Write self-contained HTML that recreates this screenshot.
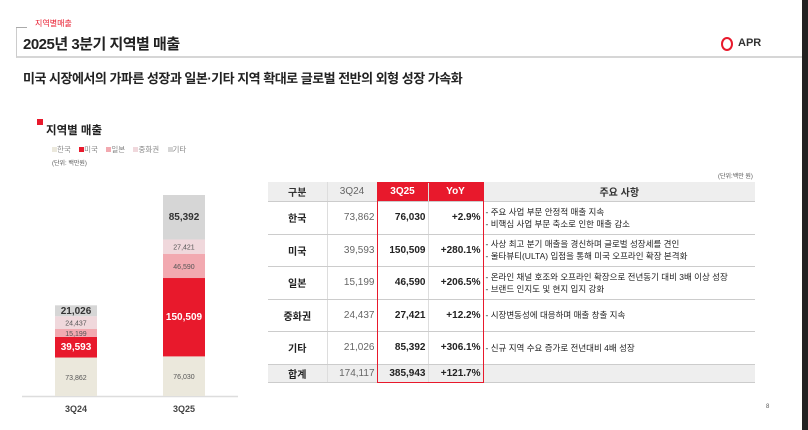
<!DOCTYPE html>
<html><head><meta charset="utf-8">
<style>
*{margin:0;padding:0;box-sizing:border-box}
body{width:808px;height:430px;background:#fff;position:relative;overflow:hidden;font-family:"Liberation Sans","Noto Sans CJK KR",sans-serif;color:#222}
.abs{position:absolute}
table{border-collapse:collapse;position:absolute;left:268px;top:182px;font-size:10px}
td,th{border-bottom:1px solid #ccc;border-right:1px solid #ddd;padding:0 2px}
th{background:#eee;font-weight:bold;height:19px;color:#333}
td.c{text-align:center;font-weight:bold}
td.r{text-align:right}
td.b{font-weight:bold}
td.n{font-size:8.5px;line-height:12px;padding-left:2px;border-right:none}
</style></head><body>
<div class="abs" style="left:16px;top:27px;width:790px;height:31px;border-left:1px solid #ccc;border-bottom:2px solid #d6d6d6"></div>
<div class="abs" style="left:16px;top:27px;width:11px;height:1px;background:#aaa"></div>
<div class="abs" style="left:35px;top:18px;font-size:8px;color:#e8192c">지역별매출</div>
<div class="abs" style="left:23px;top:33px;font-size:15px;font-weight:bold;letter-spacing:-0.5px">2025년 3분기 지역별 매출</div>
<div class="abs" style="left:721px;top:37px;width:12px;height:14px;border:2px solid #e8192c;border-radius:50%"></div>
<div class="abs" style="left:738px;top:37px;font-size:11px;font-weight:bold;color:#333">APR</div>
<div class="abs" style="left:802px;top:0;width:6px;height:430px;background:#222"></div>
<div class="abs" style="left:23px;top:68px;font-size:13px;font-weight:bold;letter-spacing:-0.5px">미국 시장에서의 가파른 성장과 일본·기타 지역 확대로 글로벌 전반의 외형 성장 가속화</div>

<div class="abs" style="left:37px;top:119px;width:6px;height:6px;background:#e8192c"></div>
<div class="abs" style="left:46px;top:122px;font-size:11.5px;font-weight:bold">지역별 매출</div>
<div class="abs" style="left:52px;top:144px;font-size:7.5px;color:#888;white-space:nowrap">
<span><span style="display:inline-block;width:5px;height:5px;background:#ebe8dc"></span>한국</span>&nbsp;&nbsp;&nbsp;
<span><span style="display:inline-block;width:5px;height:5px;background:#e8192c"></span>미국</span>&nbsp;&nbsp;&nbsp;
<span><span style="display:inline-block;width:5px;height:5px;background:#f2a9b0"></span>일본</span>&nbsp;&nbsp;&nbsp;
<span><span style="display:inline-block;width:5px;height:5px;background:#f0d8dc"></span>중화권</span>&nbsp;&nbsp;&nbsp;
<span><span style="display:inline-block;width:5px;height:5px;background:#d6d6d6"></span>기타</span>
</div>
<div class="abs" style="left:52px;top:158px;font-size:6px;color:#555">(단위: 백만원)</div>

<svg class="abs" style="left:0;top:0" width="808" height="430" id="chart"></svg>

<div class="abs" style="left:718px;top:171px;font-size:6px;color:#555">(단위:백만 원)</div>
<table>
<tr style="height:19px"><th style="width:59px">구분</th><th style="width:50px;font-weight:normal;color:#666">3Q24</th><th style="width:51px;background:#e8192c;color:#fff">3Q25</th><th style="width:55px;background:#e8192c;color:#fff">YoY</th><th style="width:272px;border-right:none">주요 사항</th></tr>
<tr style="height:33px"><td class="c">한국</td><td class="r" style="color:#666">73,862</td><td class="r b">76,030</td><td class="r b">+2.9%</td><td class="n">- 주요 사업 부문 안정적 매출 지속<br>- 비핵심 사업 부문 축소로 인한 매출 감소</td></tr>
<tr style="height:32px"><td class="c">미국</td><td class="r" style="color:#666">39,593</td><td class="r b">150,509</td><td class="r b">+280.1%</td><td class="n">- 사상 최고 분기 매출을 경신하며 글로벌 성장세를 견인<br>- 울타뷰티(ULTA) 입점을 통해 미국 오프라인 확장 본격화</td></tr>
<tr style="height:33px"><td class="c">일본</td><td class="r" style="color:#666">15,199</td><td class="r b">46,590</td><td class="r b">+206.5%</td><td class="n">- 온라인 채널 호조와 오프라인 확장으로 전년동기 대비 3배 이상 성장<br>- 브랜드 인지도 및 현지 입지 강화</td></tr>
<tr style="height:32px"><td class="c">중화권</td><td class="r" style="color:#666">24,437</td><td class="r b">27,421</td><td class="r b">+12.2%</td><td class="n">- 시장변동성에 대응하며 매출 창출 지속</td></tr>
<tr style="height:33px"><td class="c">기타</td><td class="r" style="color:#666">21,026</td><td class="r b">85,392</td><td class="r b">+306.1%</td><td class="n">- 신규 지역 수요 증가로 전년대비 4배 성장</td></tr>
<tr style="height:18px;background:#eee"><td class="c">합계</td><td class="r" style="color:#666">174,117</td><td class="r b">385,943</td><td class="r b">+121.7%</td><td class="n"></td></tr>
</table>
<div class="abs" style="left:377px;top:182px;width:107px;height:201px;border:1.5px solid #e8192c"></div>
<div class="abs" style="left:766px;top:404px;font-size:6px;color:#555">8</div>

<script>
const categories = ["3Q24","3Q25"];
const segNames = ["한국","미국","일본","중화권","기타"];
const korea = [73862, 76030];
const us = [39593, 150509];
const japan = [15199, 46590];
const china = [24437, 27421];
const other = [21026, 85392];
const series = [korea, us, japan, china, other];
const colors = ["#ebe8dc","#e8192c","#f2a9b0","#f0d8dc","#d6d6d6"];
const svg = document.getElementById('chart');
const NS = "http://www.w3.org/2000/svg";
const baseY = 396, maxH = 201, maxV = 385943;
function y(v){ return v*maxH/maxV; }
function xPos(i){ return 55 + i*108; }
const bw = 42;
const bl = document.createElementNS(NS,'line');
bl.setAttribute('x1',22);bl.setAttribute('x2',238);bl.setAttribute('y1',baseY+0.5);bl.setAttribute('y2',baseY+0.5);
bl.setAttribute('stroke','#ddd');bl.setAttribute('stroke-width',1.5);


svg.appendChild(bl);
categories.forEach((c,i)=>{
  let acc = 0;
  series.forEach((s,k)=>{
    const h = y(s[i]);
    const top = baseY - y(acc) - h;
    const r = document.createElementNS(NS,'rect');
    r.setAttribute('x',xPos(i));r.setAttribute('y',top);r.setAttribute('width',bw);r.setAttribute('height',h);
    r.setAttribute('fill',colors[k]);
    
    
    svg.appendChild(r);
    const t = document.createElementNS(NS,'text');
    t.setAttribute('x',xPos(i)+bw/2);t.setAttribute('y',top+h/2+3);
    t.setAttribute('text-anchor','middle');
    const big = (k===1||k===4);
    t.setAttribute('font-size', big?10:7);
    t.setAttribute('font-weight', big?'bold':'normal');
    t.setAttribute('fill', k===1?'#fff':(k===4?'#333':'#555'));
    t.setAttribute('font-family','Liberation Sans, sans-serif');
    t.textContent = s[i].toLocaleString('en-US');
    
    
    svg.appendChild(t);
    acc += s[i];
  });
  const lab = document.createElementNS(NS,'text');
  lab.setAttribute('x',xPos(i)+bw/2);lab.setAttribute('y',baseY+16);
  lab.setAttribute('text-anchor','middle');lab.setAttribute('font-size',9);lab.setAttribute('font-weight','bold');
  lab.setAttribute('fill','#444');lab.setAttribute('font-family','Liberation Sans, sans-serif');
  lab.textContent = c;
  
  
  svg.appendChild(lab);
});
</script>
</body></html>
